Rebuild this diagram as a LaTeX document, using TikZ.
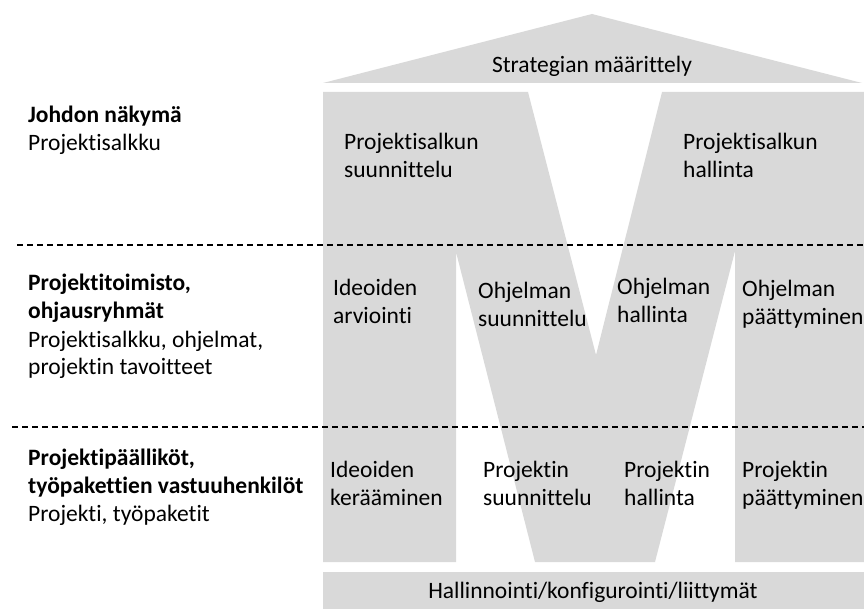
\documentclass[tikz,border=0pt]{standalone}
\usepackage{fontspec}
\setmainfont{Carlito}[Ligatures=CommonOff]
\definecolor{panelgrey}{HTML}{D9D9D9}
% left-aligned stack of lines whose baseline is that of the first line
\newcommand\linestack[1]{\begin{tabular}[t]{@{}l@{}}#1\end{tabular}}
\begin{document}
\begin{tikzpicture}[x=1pt,y=-1pt,
  greyfill/.style={fill=panelgrey,draw=none},
  txt/.style={inner sep=0pt,anchor=base west,font=\fontsize{23.5}{28}\selectfont},
  ctxt/.style={inner sep=0pt,anchor=base,font=\fontsize{23.5}{28}\selectfont},
  levelline/.style={line width=1.3pt,dash pattern=on 6pt off 4pt},
]
\useasboundingbox (0,0) rectangle (864,609);
\clip (0,0) rectangle (864,609);

% roof: strategy
\fill[greyfill] (323,83) -- (592,14) -- (862,83) -- cycle;
% the big M of the portfolio / programme / project levels
\fill[greyfill] (323,92) -- (528,92) -- (596,355) -- (662,92) -- (880,92)
  -- (880,562) -- (735,562) -- (735,251) -- (655,562) -- (535,562)
  -- (456,252) -- (456,562) -- (323,562) -- cycle;
% foundation bar
\fill[greyfill] (323,572) rectangle (880,620);

% level separators
\coordinate (sepA1) at (17,245);
\coordinate (sepA2) at (864,245);
\coordinate (sepB1) at (12,427);
\coordinate (sepB2) at (864,427);
\draw[levelline] (sepA1) -- (sepA2);
\draw[levelline] (sepB1) -- (sepB2);

% roof and foundation texts
\node[ctxt] (strategy) at (592,73) {Strategian määrittely};
\node[ctxt] (admin) at (593,598) {Hallinnointi/konfigurointi/liittymät};

% level labels
\node[txt] (lvlA) at (28,123) {\linestack{\textbf{Johdon näkymä}\\Projektisalkku}};
\node[txt] (lvlB) at (28,291) {\linestack{\textbf{Projektitoimisto,}\\\textbf{ohjausryhmät}\\Projektisalkku, ohjelmat,\\projektin tavoitteet}};
\node[txt] (lvlC) at (28,465) {\linestack{\textbf{Projektipäälliköt,}\\\textbf{työpakettien vastuuhenkilöt}\\Projekti, työpaketit}};

% portfolio level
\node[txt] (pfPlan) at (344,150) {\linestack{Projektisalkun\\suunnittelu}};
\node[txt] (pfMgmt) at (683,150) {\linestack{Projektisalkun\\hallinta}};

% programme level
\node[txt] (idEval) at (333,296) {\linestack{Ideoiden\\arviointi}};
\node[txt] (prgPlan) at (478,299) {\linestack{Ohjelman\\suunnittelu}};
\node[txt] (prgMgmt) at (617,295) {\linestack{Ohjelman\\hallinta}};
\node[txt] (prgEnd) at (742,297) {\linestack{Ohjelman\\päättyminen}};

% project level
\node[txt] (idColl) at (330,477) {\linestack{Ideoiden\\kerääminen}};
\node[txt] (prjPlan) at (483,477) {\linestack{Projektin\\suunnittelu}};
\node[txt] (prjMgmt) at (624,477) {\linestack{Projektin\\hallinta}};
\node[txt] (prjEnd) at (742,477) {\linestack{Projektin\\päättyminen}};
\end{tikzpicture}
\end{document}
